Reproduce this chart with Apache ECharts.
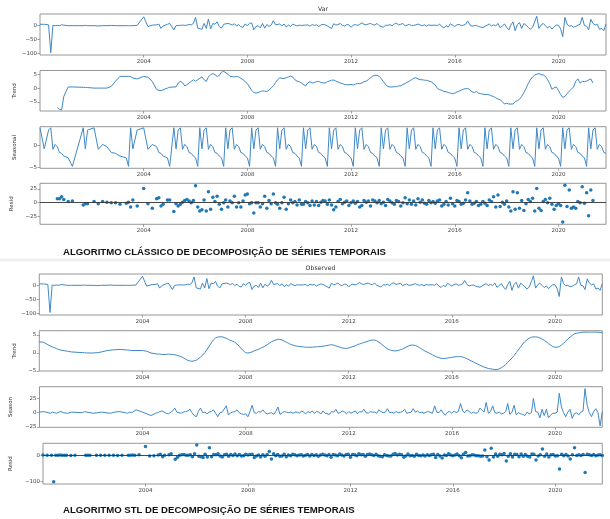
<!DOCTYPE html>
<html>
<head>
<meta charset="utf-8">
<title>Decomposição de séries temporais</title>
<script src="https://cdn.jsdelivr.net/npm/echarts@6/dist/echarts.min.js"></script>
<style>
  html, body { margin: 0; padding: 0; background: #fff; }
  #chart { width: 610px; height: 519px; }
</style>
</head>
<body>
<div id="chart"></div>
<script>
// datas das observações (espaçadas no início, mensais a partir de 2005-03)
const dates = [
  '2000-01','2000-03','2000-05','2000-06','2000-07','2000-08','2000-09','2000-10','2000-11','2000-12','2001-02','2001-04',
  '2001-09','2001-10','2001-11','2002-02','2002-04','2002-06','2002-08','2002-10','2002-12','2003-02','2003-05','2003-06',
  '2003-07','2003-08','2003-10','2004-01','2004-03','2004-05','2004-07','2004-08','2004-09','2004-10','2004-12','2005-01',
  '2005-03','2005-04','2005-05','2005-06','2005-07','2005-08','2005-09','2005-10','2005-11','2005-12',
  '2006-01','2006-02','2006-03','2006-04','2006-05','2006-06','2006-07','2006-08','2006-09','2006-10','2006-11','2006-12',
  '2007-01','2007-02','2007-03','2007-04','2007-05','2007-06','2007-07','2007-08','2007-09','2007-10','2007-11','2007-12',
  '2008-01','2008-02','2008-03','2008-04','2008-05','2008-06','2008-07','2008-08','2008-09','2008-10','2008-11','2008-12',
  '2009-01','2009-02','2009-03','2009-04','2009-05','2009-06','2009-07','2009-08','2009-09','2009-10','2009-11','2009-12',
  '2010-01','2010-02','2010-03','2010-04','2010-05','2010-06','2010-07','2010-08','2010-09','2010-10','2010-11','2010-12',
  '2011-01','2011-02','2011-03','2011-04','2011-05','2011-06','2011-07','2011-08','2011-09','2011-10','2011-11','2011-12',
  '2012-01','2012-02','2012-03','2012-04','2012-05','2012-06','2012-07','2012-08','2012-09','2012-10','2012-11','2012-12',
  '2013-01','2013-02','2013-03','2013-04','2013-05','2013-06','2013-07','2013-08','2013-09','2013-10','2013-11','2013-12',
  '2014-01','2014-02','2014-03','2014-04','2014-05','2014-06','2014-07','2014-08','2014-09','2014-10','2014-11','2014-12',
  '2015-01','2015-02','2015-03','2015-04','2015-05','2015-06','2015-07','2015-08','2015-09','2015-10','2015-11','2015-12',
  '2016-01','2016-02','2016-03','2016-04','2016-05','2016-06','2016-07','2016-08','2016-09','2016-10','2016-11','2016-12',
  '2017-01','2017-02','2017-03','2017-04','2017-05','2017-06','2017-07','2017-08','2017-09','2017-10','2017-11','2017-12',
  '2018-01','2018-02','2018-03','2018-04','2018-05','2018-06','2018-07','2018-08','2018-09','2018-10','2018-11','2018-12',
  '2019-01','2019-02','2019-03','2019-04','2019-05','2019-06','2019-07','2019-08','2019-09','2019-10','2019-11','2019-12',
  '2020-01','2020-02','2020-03','2020-04','2020-05','2020-06','2020-07','2020-08','2020-09','2020-10','2020-11','2020-12',
  '2021-01','2021-02','2021-03','2021-04','2021-05','2021-06','2021-07','2021-08','2021-09','2021-10','2021-11'
];

// série original (Var / Observed)
const observed = [
  5, 5, 3, -97, 1, 0, 1, 0, 3, 2, 0, 0,
  0, 1, 0, 0, -1, 0, 0, 1, 0, 0, 0, 0,
  0, 0, 1, 32, -3, 2, 3, 6, -10, -1, 5, 8,
  -15, 0, 1, 1, 2, 1, 2, 4, 3, 8,
  30, -9, -6, -13, 8, -10, 24, -12, 8, 5, 14, -3,
  -9, 5, 10, 8, 6, 2, 7, -1, 4, -4, -6, 6,
  0, 8, 10, -15, -3, 0, -8, 8, -9, 4, -3, 2,
  18, 3, 5, 6, -1, 6, -5, 2, -3, 6, 2, -1,
  2, 1, 0, 2, 3, -2, 4, 1, 3, -3, 2, 5,
  3, -1, 4, -10, 7, 2, 4, 8, 1, -1, 4, 3,
  -6, 2, 4, 1, 5, 10, 5, 3, 6, 8, 4, 2,
  8, 0, 4, -6, 2, 1, 4, -1, 6, 9, 3, 5,
  8, -1, 3, 5, 0, 1, 3, 6, 2, 0, 3, -2,
  3, 1, 2, 2, 0, 6, -3, -8, 0, -5, 7, 2,
  -3, 3, 5, 0, 2, 5, 17, 3, -2, 0, 1, -3,
  -5, -7, -4, 2, 6, -1, 3, -1, 8, -7, -1, 6,
  -6, -15, 2, 14, -18, 4, 11, -10, 8, 2, -6, -13,
  -6, 14, 34, -10, 2, 8, 0, -8, -2, -12, -4, 2,
  2, -12, -40, 30, 6, -2, 0, -5, -3, 2, 5, 30,
  0, -2, -15, 23, 8, 2, 5, -13, -10, -18, 6
];

// decomposição clássica
const classicTrend = [
  null, null, null, null, null, null, -7, -7.6, -7.8, -3, 0.4, 0.4,
  0.3, 0.2, 0.2, 0, 0, 0, 0, 0.6, 2.5, 4.2, 4.2, 4.2,
  4.1, 3.6, 3.3, 4.2, 3.9, 2.4, -0.5, -0.8, -0.9, -0.6, 0, 0.3,
  0.4, 0.4, 1.8, 2.4, 2, 0.8, 1.2, 1.8, 2.4, 3,
  2.4, 3, 3.3, 4, 3, 2.4, 4, 4.8, 5.2, 4.8, 4.2, 4.5,
  5.7, 6, 5.4, 5, 4.2, 4.1, 4, 4.2, 4, 3.5, 3, 2.3,
  1.6, 0.4, -0.8, -1.6, -1.8, -1.6, -1.3, -1, -1.1, -1.2, -0.7, 0,
  0.8, 2, 3, 3.7, 3.5, 3.4, 3.7, 4, 4.3, 4, 3, 2.5,
  2.3, 1.8, 1.1, 0.8, 1.9, 2.3, 1.8, 2, 2.3, 2.4, 2, 1.9,
  1.8, 2.3, 2.5, 2.8, 2.9, 2.5, 2.2, 1.8, 1.6, 1.3, 1.2, 1.2,
  1.3, 1.1, 1.4, 1.7, 1.6, 1.8, 2.3, 2.5, 3, 3.7, 4.3, 4.6,
  4.6, 4.2, 3.4, 2.3, 1.3, 0.6, 0.4, 0.4, 0.5, 0.5, 0.8, 0.8,
  1.3, 1.6, 2, 2.5, 3, 3.5, 3.7, 3.3, 3, 3, 2.8, 2.8,
  2.5, 2.3, 1.8, 1.1, -0.1, -0.6, -0.8, -1.2, -1.3, -1.6, -1.8, -2,
  -1.8, -1.4, -1.1, -0.7, -0.4, -0.2, -0.1, -0.6, -1.3, -1.6, -1.2, -1.8,
  -2, -2.2, -2.2, -2.3, -2.4, -2.8, -3, -3.5, -3.9, -4.2, -4.8, -5.7,
  -5.4, -5.7, -6.1, -5.7, -4.9, -4.5, -4, -3, -1.6, -0.1, 1.6, 3,
  4, 4.7, 5.2, 5.2, 4.8, 4.7, 4.2, 3, 1.6, -0.4, 0.1, 0.4,
  -0.8, -2.3, -3.3, -3, -2, -1.1, -0.4, 0.4, 2.5, 3.3, 1.8, 2.4,
  2.3, 2.5, 2.9, 3.3, 1.8, null, null, null, null, null, null
];

const classicSeasonal = [
  3.9, -0.8, 3.4, 3.9, -0.9, 0.2, -0.3, -1.6, -1.8, -2.4, -2.8, -4.7,
  3.9, -0.8, 3.4, 3.9, -0.9, 0.2, -0.3, -1.6, -1.8, -2.4, -2.8, -4.7,
  3.9, -0.8, 3.4, 3.9, -0.9, 0.2, -0.3, -1.6, -1.8, -2.4, -2.8, -4.7,
  3.9, -0.8, 3.4, 3.9, -0.9, 0.2, -0.3, -1.6, -1.8, -2.4,
  -2.8, -4.7, 3.9, -0.8, 3.4, 3.9, -0.9, 0.2, -0.3, -1.6, -1.8, -2.4,
  -2.8, -4.7, 3.9, -0.8, 3.4, 3.9, -0.9, 0.2, -0.3, -1.6, -1.8, -2.4,
  -2.8, -4.7, 3.9, -0.8, 3.4, 3.9, -0.9, 0.2, -0.3, -1.6, -1.8, -2.4,
  -2.8, -4.7, 3.9, -0.8, 3.4, 3.9, -0.9, 0.2, -0.3, -1.6, -1.8, -2.4,
  -2.8, -4.7, 3.9, -0.8, 3.4, 3.9, -0.9, 0.2, -0.3, -1.6, -1.8, -2.4,
  -2.8, -4.7, 3.9, -0.8, 3.4, 3.9, -0.9, 0.2, -0.3, -1.6, -1.8, -2.4,
  -2.8, -4.7, 3.9, -0.8, 3.4, 3.9, -0.9, 0.2, -0.3, -1.6, -1.8, -2.4,
  -2.8, -4.7, 3.9, -0.8, 3.4, 3.9, -0.9, 0.2, -0.3, -1.6, -1.8, -2.4,
  -2.8, -4.7, 3.9, -0.8, 3.4, 3.9, -0.9, 0.2, -0.3, -1.6, -1.8, -2.4,
  -2.8, -4.7, 3.9, -0.8, 3.4, 3.9, -0.9, 0.2, -0.3, -1.6, -1.8, -2.4,
  -2.8, -4.7, 3.9, -0.8, 3.4, 3.9, -0.9, 0.2, -0.3, -1.6, -1.8, -2.4,
  -2.8, -4.7, 3.9, -0.8, 3.4, 3.9, -0.9, 0.2, -0.3, -1.6, -1.8, -2.4,
  -2.8, -4.7, 3.9, -0.8, 3.4, 3.9, -0.9, 0.2, -0.3, -1.6, -1.8, -2.4,
  -2.8, -4.7, 3.9, -0.8, 3.4, 3.9, -0.9, 0.2, -0.3, -1.6, -1.8, -2.4,
  -2.8, -4.7, 3.9, -0.8, 3.4, 3.9, -0.9, 0.2, -0.3, -1.6, -1.8, -2.4,
  -2.8, -4.7, 3.9, -0.8, 3.4, 3.9, -0.9, 0.2, -0.3, -1.6, -1.8
];

const classicResid = [
  null, null, null, null, null, null, 7, 7, 11, 6, 2, 3,
  -4, -2, -2, 2, -2, 2, 1, 0, 0, -3, -1, 1,
  -8, 5, -6, 26, -2, -10, 7, 9, -6, -3, 5, 5,
  -16, -2, -6, -3, 1, 4, 6, 3, 0, 4,
  31, -8, -15, -13, 5, -15, 20, -12, 10, 2, 12, -3,
  -12, 0, 5, -8, 3, 0, 12, -8, 0, -8, 3, 14,
  16, -2, 0, -19, 0, 0, -8, -2, 12, -10, 4, -2,
  16, 0, -3, -10, 0, 10, -12, -2, 5, 0, 2, -4,
  5, -3, -3, 2, 0, -5, 3, -4, 2, -5, 1, 4,
  3, -3, 5, -4, -13, -8, 2, 6, -2, 1, 3, -5,
  0, 3, -1, 2, -8, -5, 4, 1, 3, -6, 5, 3,
  0, 4, -2, 1, -5, 6, 3, 0, -3, 4, 2, -6,
  0, 9, -2, 5, -3, 3, -4, 7, 1, 5, -1, -3,
  4, 0, 2, -1, 3, 5, -6, -3, 2, -4, 8, -2,
  -6, 4, 2, -3, -1, 5, 18, 3, -3, -1, 2, -5,
  -3, 2, -1, -5, 5, 2, 11, -8, 14, -7, 1, -3,
  3, -8, -15, 20, -12, 18, -10, 4, -14, -2, 6, 2,
  8, -15, 26, -10, -14, 2, 6, 0, 8, -3, -12, -5,
  -2, -5, -35, 32, -7, 23, -10, -8, -10, 2, 0, 29,
  -1, 18, -24, 23, 4, null, null, null, null, null, null
];

// decomposição STL
const stlTrend = [
  3.1, 3.0, 2.3, 2.0, 1.7, 1.5, 1.2, 1.0, 0.8, 0.7, 0.5, 0.3,
  0.1, 0.1, 0.0, 0.0, 0.1, 0.3, 0.6, 0.8, 0.9, 1.0, 0.9, 0.8,
  0.8, 0.7, 0.7, 0.7, 0.5, 0.0, -0.2, -0.3, -0.3, -0.4, -0.4, -0.3,
  -0.4, -0.5, -0.6, -0.8, -1.0, -1.3, -1.7, -2.0, -2.2, -2.3,
  -2.2, -2.0, -1.6, -1.2, -0.6, 0.1, 0.9, 1.8, 2.8, 3.6, 4.2, 4.4,
  4.5, 4.5, 4.3, 4.1, 3.8, 3.5, 3.3, 3.0, 2.5, 1.9, 1.2, 0.6,
  0.1, 0.0, 0.1, 0.3, 0.6, 0.8, 1.0, 1.3, 1.6, 1.9, 2.3, 2.7,
  3.1, 3.4, 3.7, 3.8, 3.8, 3.6, 3.3, 3.0, 2.7, 2.4, 2.2, 2.0,
  1.9, 1.8, 1.7, 1.7, 1.6, 1.6, 1.6, 1.6, 1.7, 1.7, 1.8, 1.8,
  1.9, 2.0, 2.1, 2.2, 2.3, 2.2, 2.0, 1.8, 1.6, 1.4, 1.3, 1.3,
  1.4, 1.6, 1.8, 2.0, 2.3, 2.5, 2.7, 2.9, 3.1, 3.3, 3.5, 3.6,
  3.6, 3.4, 3.1, 2.6, 2.1, 1.6, 1.2, 0.9, 0.7, 0.6, 0.6, 0.7,
  0.9, 1.1, 1.4, 1.7, 2.0, 2.2, 2.2, 2.1, 1.8, 1.5, 1.1, 0.7,
  0.4, 0.1, -0.2, -0.5, -0.8, -1.1, -1.3, -1.5, -1.5, -1.5, -1.4, -1.3,
  -1.2, -1.1, -1.0, -1.0, -1.0, -1.1, -1.3, -1.6, -1.9, -2.2, -2.5, -2.8,
  -3.1, -3.4, -3.7, -3.9, -4.1, -4.3, -4.4, -4.5, -4.6, -4.6, -4.4, -4.1,
  -3.7, -3.2, -2.6, -2.0, -1.4, -0.7, 0.1, 0.9, 1.7, 2.5, 3.2, 3.7,
  4.1, 4.4, 4.5, 4.5, 4.4, 4.2, 3.9, 3.5, 3.1, 2.6, 2.2, 1.8,
  1.6, 1.6, 1.8, 2.2, 2.7, 3.3, 3.9, 4.4, 4.9, 5.3, 5.5, 5.6,
  5.7, 5.8, 5.8, 5.8, 5.8, 5.8, 5.8, 5.8, 5.8, 5.7, 5.7
];

const stlSeason = [
  1, 2, 0, -1, 1, 0, -1, 1, 2, 0, -1, 1,
  0, 2, 1, -1, 0, 1, 0, -1, 1, 2, 0, -1,
  1, 0, 5, 1, -2, -5, -1, 0, 2, 3, -1, -2,
  3, 8, 1, 0, -1, 1, 2, 3, 6, 0,
  -5, -7, 2, 8, 0, 1, -2, 1, 2, 5, -1, -7,
  0, 1, 2, 12, -4, 0, 1, 2, 5, 0, -2, -3,
  -2, -7, 2, 13, 0, -1, 2, 1, 5, 0, -2, -1,
  0, -3, 2, 10, -3, 0, 2, 1, 0, 1, -1, 1,
  1, -1, 3, 1, -2, 2, 0, 3, -1, 2, 1, -2,
  3, -1, 2, -3, 2, 1, 6, -1, 0, 3, 1, -2,
  2, -1, 1, 3, -2, 2, 1, 6, 0, -1, 2, 1,
  1, -1, 5, 2, 0, 1, 7, 0, 1, -1, 2, 0,
  1, 2, 6, -1, 0, 1, 7, 1, 3, 0, 1, -1,
  1, 2, 0, -1, 12, 1, 0, 5, -1, -4, 1, 2,
  -1, 3, 0, 2, 16, 3, 0, 5, 2, -1, 1, -1,
  0, 8, 9, 1, 18, -1, 2, 12, 0, -1, 1, -2,
  -1, 2, 16, -3, 1, 13, -4, 0, -2, -3, -5, 1,
  -2, 0, 25, 2, 1, -9, 6, -5, 6, -9, -4, -1,
  -1, 1, 34, 10, 0, -7, 1, 6, -10, -2, 0, -4,
  1, 3, 42, 13, 0, -7, 2, 7, 0, -23, 2
];

const stlResid = [
  1, 0, 0, -100, 0, 0, 1, 0, 0, 0, -1, 0,
  0, 0, 0, 0, 0, 0, 0, 0, -1, 0, 0, 0,
  1, 0, 2, 33, -3, -2, 1, 4, -5, 0, 2, 6,
  -15, -7, 0, 2, 3, 0, 0, 2, -5, 6,
  39, -4, -5, -8, 4, -6, 29, -5, 3, 2, 6, -3,
  -6, 2, 4, -4, 3, -1, 5, -2, 3, -3, -2, 4,
  1, 3, 4, -8, -3, 1, -6, 2, -4, 3, 14, -14,
  6, -2, 3, -4, -3, 4, -5, 1, -2, 4, 2, -2,
  1, 2, -3, 0, 3, -3, 3, -1, 2, -4, 1, 4,
  1, -2, 3, -7, 3, 1, -2, 5, 1, -3, 3, 4,
  -7, 3, 2, -2, 6, 2, 3, -4, 3, 5, 2, -1,
  4, -2, -4, -5, 2, -1, -3, -3, 4, 7, 1, 4,
  2, -7, -3, 5, -2, -1, -4, 4, -1, -2, 1, -3,
  2, -1, 2, 4, -8, 3, -3, -10, 1, -1, 6, 1,
  -2, 1, 5, -2, -9, 4, 11, -3, -2, 2, 1, -2,
  -2, -4, -3, 20, -5, -18, 27, -6, 5, -4, 4, 2,
  7, -22, -4, 6, -6, 4, 3, -5, 5, -4, 3, -4,
  -6, 5, 4, -18, -3, 2, 24, -4, 5, -6, 2, 3,
  -3, -2, -52, 4, -2, 3, -3, -14, 2, 29, -1, 2,
  -1, 3, -65, 4, 2, -1, 3, -2, 1, 2, -1
];

// marcas dos eixos
const yearTicks = ['2004-01', '2008-01', '2012-01', '2016-01', '2020-01'];
const obsTicks = [-100, -50, 0];
const trendTicks = [-5, 0, 5];
const seasonalTicks = [-5, 0];
const residTicks = [-25, 0, 25];
const seasonStlTicks = [-25, 0, 25];
const residStlTicks = [-100, 0];

[observed, classicTrend, classicSeasonal, classicResid, stlTrend, stlSeason, stlResid].forEach((a, i) => {
  if (a.length !== dates.length) console.error('array ' + i + ' has ' + a.length + ' values, dates ' + dates.length);
});

const LINE_BLUE = '#3f88c5';
const DOT_BLUE = '#1f77b4';
const FRAME = '#8a8a8a';
const LABEL = '#444';

const toTime = (s) => {
  const [y, m] = s.split('-').map(Number);
  return new Date(y, m - 1, 1).getTime();
};
const times = dates.map(toTime);
const pairs = (values) => times.map((t, i) => [t, values[i] == null ? '-' : values[i]]);
const minus = (v) => (v < 0 ? '\u2212' + Math.abs(v) : String(v));

const panels = [
  // algoritmo clássico
  { left: 40, width: 566, top: 14, height: 41, min: -105.5, max: 42, ticks: obsTicks, name: '', gap: 0, values: observed, kind: 'line' },
  { left: 40, width: 566, top: 70.5, height: 40.5, min: -8.2, max: 6.3, ticks: trendTicks, name: 'Trend', gap: 16, values: classicTrend, kind: 'line' },
  { left: 40, width: 566, top: 126.7, height: 41.6, min: -5.13, max: 4.15, ticks: seasonalTicks, name: 'Seasonal', gap: 15, values: classicSeasonal, kind: 'line' },
  { left: 40, width: 566, top: 183.3, height: 41, min: -39.4, max: 35.4, ticks: residTicks, name: 'Resid', gap: 18, values: classicResid, kind: 'scatter' },
  // algoritmo STL
  { left: 39.3, width: 563, top: 274, height: 41, min: -106, max: 40.4, ticks: obsTicks, name: '', gap: 0, values: observed, kind: 'line' },
  { left: 39.3, width: 563, top: 330.7, height: 40.3, min: -5.0, max: 6.2, ticks: trendTicks, name: 'Trend', gap: 15.5, values: stlTrend, kind: 'line' },
  { left: 39.3, width: 563, top: 386.7, height: 40.6, min: -25.5, max: 45.4, ticks: seasonStlTicks, name: 'Season', gap: 17.5, values: stlSeason, kind: 'line' },
  { left: 39.3, width: 563, top: 443.3, height: 40.7, min: -108.7, max: 45.5, ticks: residStlTicks, name: 'Resid', gap: 17, values: stlResid, kind: 'scatter' }
];

const xMin = toTime(dates[0]);
const xMax = toTime(dates[dates.length - 1]);
const xTickValues = yearTicks.map(toTime);

const option = {
  animation: false,
  backgroundColor: '#fff',
  textStyle: { fontFamily: 'DejaVu Sans' },
  grid: panels.map((p) => ({
    left: p.left, top: p.top, width: p.width, height: p.height,
    show: true, borderColor: FRAME, borderWidth: 0.9, backgroundColor: 'transparent'
  })),
  // eixo temporal desenhado como eixo numérico (timestamps), rótulos só nos anos
  xAxis: panels.map((p, i) => ({
    type: 'value', gridIndex: i, min: xMin, max: xMax, scale: true,
    axisLine: { show: false, onZero: false },
    splitLine: { show: false },
    axisTick: { show: true, customValues: xTickValues, length: 2.5, lineStyle: { color: FRAME, width: 0.8 } },
    axisLabel: {
      customValues: xTickValues, margin: 3.5, fontSize: 5.5, color: LABEL,
      formatter: (v) => String(new Date(v).getFullYear())
    }
  })),
  yAxis: panels.map((p, i) => ({
    type: 'value', gridIndex: i, min: p.min, max: p.max,
    axisLine: { show: false, onZero: false },
    splitLine: { show: false },
    axisTick: { show: true, customValues: p.ticks, length: 2.5, lineStyle: { color: FRAME, width: 0.8 } },
    axisLabel: { customValues: p.ticks, margin: 3, fontSize: 5.5, color: LABEL, formatter: minus },
    name: p.name, nameLocation: 'middle', nameGap: p.gap, nameRotate: 90,
    nameTextStyle: { fontSize: 5.5, color: '#333' }
  })),
  series: panels.map((p, i) => {
    if (p.kind === 'line') {
      return {
        type: 'line', xAxisIndex: i, yAxisIndex: i, data: pairs(p.values),
        showSymbol: false, symbol: 'none', connectNulls: false,
        lineStyle: { color: LINE_BLUE, width: 1 }
      };
    }
    return {
      type: 'scatter', xAxisIndex: i, yAxisIndex: i, data: pairs(p.values),
      symbolSize: 3.5, itemStyle: { color: DOT_BLUE, opacity: 1 },
      markLine: {
        silent: true, symbol: 'none', label: { show: false },
        lineStyle: { color: '#333', width: 0.9, type: 'solid' },
        data: [{ yAxis: 0 }]
      }
    };
  }),
  graphic: [
    { type: 'text', x: 323, y: 9, style: { text: 'Var', align: 'center', verticalAlign: 'middle', fontSize: 6.2, fill: '#333', fontFamily: 'DejaVu Sans' } },
    { type: 'text', x: 320.5, y: 268.3, style: { text: 'Observed', align: 'center', verticalAlign: 'middle', fontSize: 6.2, fill: '#333', fontFamily: 'DejaVu Sans' } },
    { type: 'text', x: 63, y: 252.7, style: { text: 'ALGORITMO CLÁSSICO DE DECOMPOSIÇÃO DE SÉRIES TEMPORAIS', verticalAlign: 'middle', fontSize: 9.6, fontWeight: 'bold', fill: '#111', fontFamily: 'Liberation Sans' } },
    { type: 'rect', shape: { x: 0, y: 258.5, width: 610, height: 3 }, style: { fill: '#efefef' } },
    { type: 'text', x: 63, y: 510, style: { text: 'ALGORITMO STL DE DECOMPOSIÇÃO DE SÉRIES TEMPORAIS', verticalAlign: 'middle', fontSize: 9.6, fontWeight: 'bold', fill: '#111', fontFamily: 'Liberation Sans' } }
  ]
};

const chart = echarts.init(document.getElementById('chart'));
chart.setOption(option);
window.addEventListener('resize', function () {
  chart.resize();
});
</script>
</body>
</html>
